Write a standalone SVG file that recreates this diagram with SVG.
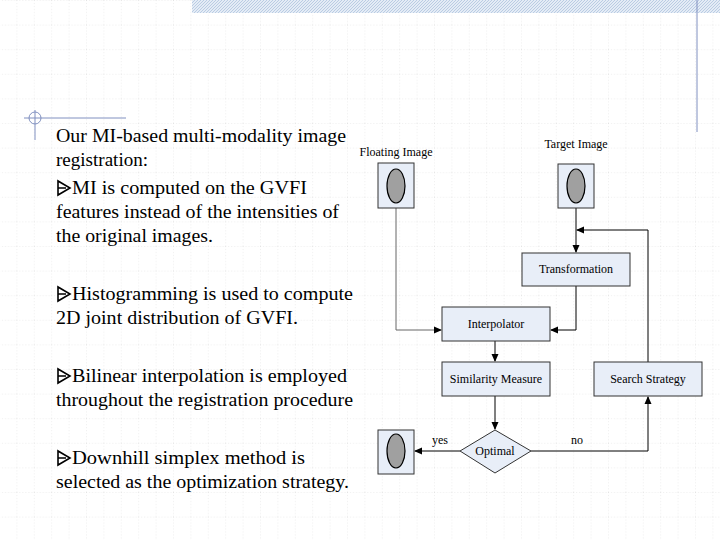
<svg xmlns="http://www.w3.org/2000/svg" width="720" height="540" viewBox="0 0 720 540">
<defs>
<pattern id="grid" width="17.4" height="24.6" patternUnits="userSpaceOnUse" x="-1" y="0">
<path d="M0 0V24.6M0 0H17.4" fill="none" stroke="#c8c8c8" stroke-width="0.6" stroke-dasharray="1,2"/>
</pattern>
<pattern id="hatch" width="3" height="3" patternUnits="userSpaceOnUse">
<rect width="3" height="3" fill="#e4ecf6"/><path d="M0 3L3 0" stroke="#b0c4de" stroke-width="0.8"/>
</pattern>
<marker id="ah" markerWidth="8" markerHeight="8" refX="7" refY="4" orient="auto" markerUnits="userSpaceOnUse">
<path d="M0 0.5L8 4L0 7.5z" fill="#000"/>
</marker>
</defs>
<style>
.t{font-family:"Liberation Serif","Times New Roman",serif;font-size:18px;fill:#000}
.n{font-family:"Liberation Serif","Times New Roman",serif;font-size:12px;fill:#000}
.box{fill:#e8eef8;stroke:#333;stroke-width:1}
.img{fill:#a0a0a0;stroke:#000;stroke-width:1.2}
.c{fill:none;stroke:#000;stroke-width:1}
.bl{fill:none;stroke:#000;stroke-width:1.6;stroke-linejoin:miter}
</style>
<rect width="720" height="540" fill="#fff"/>
<rect width="720" height="540" fill="url(#grid)"/>
<rect x="192" y="0" width="528" height="13" fill="url(#hatch)"/>
<line x1="697" y1="0" x2="697" y2="132" stroke="#8090c0" stroke-width="1"/>
<line x1="24" y1="118" x2="126" y2="118" stroke="#8090c0" stroke-width="1"/>
<circle cx="35" cy="118" r="6" fill="none" stroke="#8090c0" stroke-width="1"/>
<line x1="35" y1="110" x2="35" y2="140" stroke="#8090c0" stroke-width="1"/>

<g id="text">
<text class="t" x="56" y="142" textLength="290" lengthAdjust="spacingAndGlyphs">Our MI-based multi-modality image</text>
<text class="t" x="56" y="166" textLength="92" lengthAdjust="spacingAndGlyphs">registration:</text>
<text class="t" x="72" y="194" textLength="235" lengthAdjust="spacingAndGlyphs">MI is computed on the GVFI</text>
<text class="t" x="56" y="218" textLength="283" lengthAdjust="spacingAndGlyphs">features instead of the intensities of</text>
<text class="t" x="56" y="242" textLength="157" lengthAdjust="spacingAndGlyphs">the original images.</text>
<text class="t" x="72" y="300" textLength="281" lengthAdjust="spacingAndGlyphs">Histogramming is used to compute</text>
<text class="t" x="56" y="324" textLength="242" lengthAdjust="spacingAndGlyphs">2D joint distribution of GVFI.</text>
<text class="t" x="72" y="382" textLength="275" lengthAdjust="spacingAndGlyphs">Bilinear interpolation is employed</text>
<text class="t" x="56" y="406" textLength="297" lengthAdjust="spacingAndGlyphs">throughout the registration procedure</text>
<text class="t" x="72" y="464" textLength="233" lengthAdjust="spacingAndGlyphs">Downhill simplex method  is</text>
<text class="t" x="56" y="488" textLength="293" lengthAdjust="spacingAndGlyphs">selected as the optimization strategy.</text>
<path class="bl" d="M58 181L58 195L70 188Z M58 188L66 188"/>
<path class="bl" d="M58 287L58 301L70 294Z M58 294L66 294"/>
<path class="bl" d="M58 369L58 383L70 376Z M58 376L66 376"/>
<path class="bl" d="M58 451L58 465L70 458Z M58 458L66 458"/>
</g>

<g id="connectors">
<polyline class="c" points="396,208 396,330 441,330" marker-end="url(#ah)" style="stroke:#666"/>
<line class="c" x1="576" y1="208" x2="576" y2="252" marker-end="url(#ah)"/>
<polyline class="c" points="648,362 648,230 577,230" marker-end="url(#ah)"/>
<polyline class="c" points="576,286 576,330 551,330" marker-end="url(#ah)"/>
<line class="c" x1="495" y1="341" x2="495" y2="361" marker-end="url(#ah)"/>
<line class="c" x1="495" y1="396" x2="495" y2="429" marker-end="url(#ah)"/>
<line class="c" x1="460" y1="451" x2="415" y2="451" marker-end="url(#ah)"/>
<polyline class="c" points="531,451 648,451 648,397" marker-end="url(#ah)"/>
<text class="n" x="432" y="444">yes</text>
<text class="n" x="571" y="444">no</text>
</g>

<g id="floating">
<text class="n" x="396" y="156" text-anchor="middle">Floating Image</text>
<rect class="box" x="378" y="163" width="36" height="45"/>
<ellipse class="img" cx="396" cy="186" rx="9" ry="17"/>
</g>
<g id="target">
<text class="n" x="576" y="148" text-anchor="middle">Target Image</text>
<rect class="box" x="558" y="164" width="36" height="44"/>
<ellipse class="img" cx="576" cy="186" rx="9" ry="17"/>
</g>
<g id="transformation">
<rect class="box" x="522" y="253" width="108" height="33"/>
<text class="n" x="576" y="273" text-anchor="middle">Transformation</text>
</g>
<g id="interpolator">
<rect class="box" x="442" y="307" width="108" height="34"/>
<text class="n" x="496" y="328" text-anchor="middle">Interpolator</text>
</g>
<g id="similarity">
<rect class="box" x="442" y="362" width="108" height="34"/>
<text class="n" x="496" y="383" text-anchor="middle">Similarity Measure</text>
</g>
<g id="search">
<rect class="box" x="594" y="362" width="108" height="34"/>
<text class="n" x="648" y="383" text-anchor="middle">Search Strategy</text>
</g>
<g id="optimal">
<polygon class="box" points="495,430 531,451 495,473 460,451"/>
<text class="n" x="495" y="455" text-anchor="middle">Optimal</text>
</g>
<g id="output">
<rect class="box" x="378" y="430" width="36" height="44"/>
<ellipse class="img" cx="396" cy="451" rx="9" ry="17"/>
</g>
</svg>
